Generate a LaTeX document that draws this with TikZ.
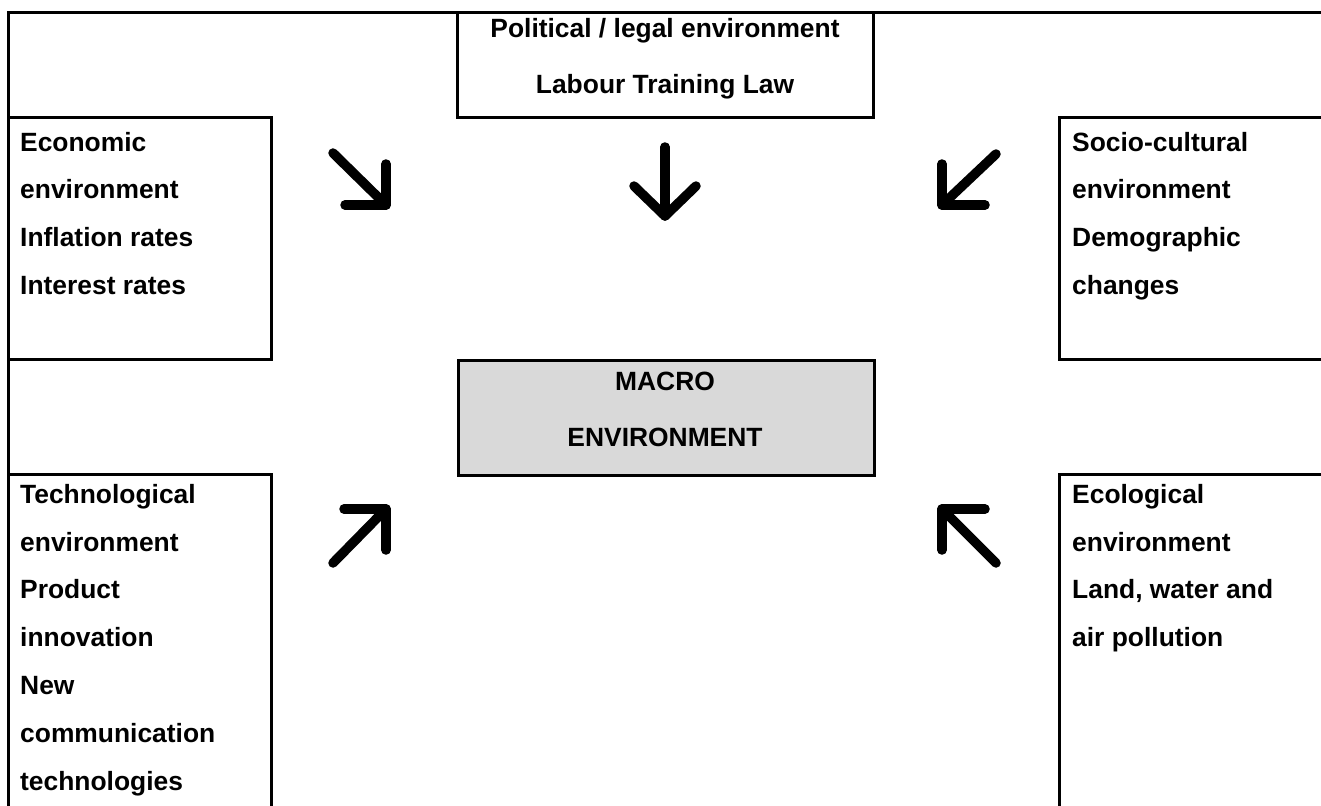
\documentclass[tikz,border=0pt]{standalone}
\usepackage{fontspec}
\setmainfont{Liberation Sans}
\definecolor{macrogray}{HTML}{D9D9D9}
\begin{document}
\begin{tikzpicture}[x=1pt,y=-1pt,
  frame/.style={line width=3pt},
  arrowstroke/.style={line width=9.5pt, line cap=round, line join=round},
  celltext/.style={inner sep=0pt, align=left, anchor=north west,
    font=\fontsize{26.4}{47.8}\selectfont\bfseries},
  centertext/.style={inner sep=0pt, align=center, anchor=north,
    font=\fontsize{26.4}{56}\selectfont\bfseries}]
\clip (0,0) rectangle (1321,805);
\fill[white] (0,0) rectangle (1321,805);
% outer frame (top and left)
\draw[frame] (1340,13) -- (8,13) -- (8,820);
% political cell
\draw[frame] (457,13) -- (457,117.5) -- (873,117.5) -- (873,13);
% economic cell
\draw[frame] (8,117.5) -- (271,117.5) -- (271,359) -- (8,359);
% socio-cultural cell
\draw[frame] (1340,117.5) -- (1059,117.5) -- (1059,359) -- (1340,359);
% technological cell
\draw[frame] (8,474) -- (271,474) -- (271,820);
% ecological cell
\draw[frame] (1340,474) -- (1059,474) -- (1059,820);
% macro box
\node[frame, draw, fill=macrogray, minimum width=416pt, minimum height=115pt,
  inner sep=0pt, anchor=north west] (macro) at (457,359) {};
% texts
\node[centertext] (poltext) at (665,18) {Political / legal environment\\Labour Training Law};
\node[centertext] (macrotext) at (665,372) {MACRO\\ENVIRONMENT};
\node[celltext] (econtext) at (20,131.7) {Economic\\environment\\Inflation rates\\Interest rates};
\node[celltext] (sociotext) at (1072,131.7) {Socio-cultural\\environment\\Demographic\\changes};
\node[celltext] (techtext) at (20,484) {Technological\\environment\\Product\\innovation\\New\\communication\\technologies};
\node[celltext] (ecotext) at (1072,484) {Ecological\\environment\\Land, water and\\air pollution};
% arrows
\coordinate (seA) at (333,153); \coordinate (seB) at (386,205);
\draw[arrowstroke] (seA) -- (seB);
\draw[arrowstroke] (345,205) -- (seB) -- (386,164);
\coordinate (dA) at (665,147); \coordinate (dB) at (665,216);
\draw[arrowstroke] (dA) -- (dB);
\draw[arrowstroke] (634,186) -- (dB) -- (696,186);
\coordinate (swA) at (996,154); \coordinate (swB) at (942,205);
\draw[arrowstroke] (swA) -- (swB);
\draw[arrowstroke] (942,164) -- (swB) -- (985,205);
\coordinate (neA) at (333,563); \coordinate (neB) at (386,509);
\draw[arrowstroke] (neA) -- (neB);
\draw[arrowstroke] (344,509) -- (neB) -- (386,550);
\coordinate (nwA) at (996,563); \coordinate (nwB) at (942,509);
\draw[arrowstroke] (nwA) -- (nwB);
\draw[arrowstroke] (985,509) -- (nwB) -- (942,550);
\end{tikzpicture}
\end{document}
